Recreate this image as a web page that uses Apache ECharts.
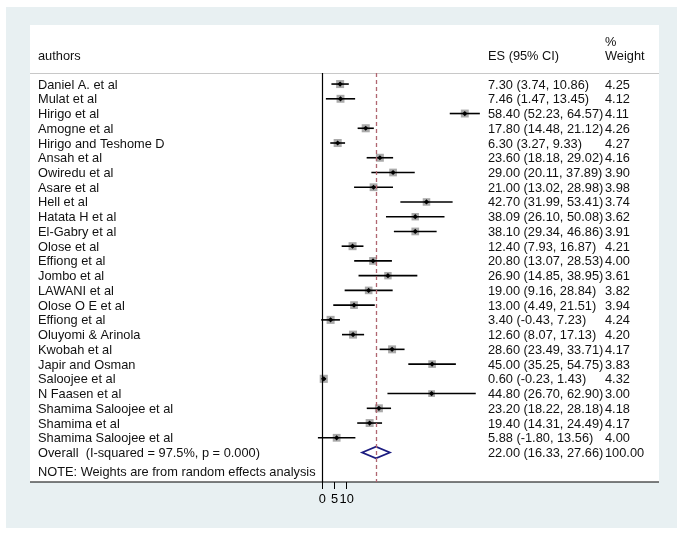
<!DOCTYPE html>
<html>
<head>
<meta charset="utf-8">
<script src="https://cdn.jsdelivr.net/npm/echarts@6/dist/echarts.min.js"></script>
<style>
  html, body { margin: 0; padding: 0; background: #fff; }
  #chart { width: 685px; height: 535px; }
</style>
</head>
<body>
<div id="chart"></div>
<script>
// study rows, top to bottom
const authors = [
  'Daniel A. et al', 'Mulat et al', 'Hirigo et al', 'Amogne et al', 'Hirigo and Teshome D',
  'Ansah et al', 'Owiredu et al', 'Asare et al', 'Hell et al', 'Hatata H et al',
  'El-Gabry et al', 'Olose et al', 'Effiong et al', 'Jombo et al', 'LAWANI et al',
  'Olose O E et al', 'Effiong et al', 'Oluyomi & Arinola', 'Kwobah et al', 'Japir and Osman',
  'Saloojee et al', 'N Faasen et al', 'Shamima Saloojee et al', 'Shamima et al', 'Shamima Saloojee et al'
];
const es = [7.30, 7.46, 58.40, 17.80, 6.30, 23.60, 29.00, 21.00, 42.70, 38.09,
  38.10, 12.40, 20.80, 26.90, 19.00, 13.00, 3.40, 12.60, 28.60, 45.00,
  0.60, 44.80, 23.20, 19.40, 5.88];
const ciLow = [3.74, 1.47, 52.23, 14.48, 3.27, 18.18, 20.11, 13.02, 31.99, 26.10,
  29.34, 7.93, 13.07, 14.85, 9.16, 4.49, -0.43, 8.07, 23.49, 35.25,
  -0.23, 26.70, 18.22, 14.31, -1.80];
const ciHigh = [10.86, 13.45, 64.57, 21.12, 9.33, 29.02, 37.89, 28.98, 53.41, 50.08,
  46.86, 16.87, 28.53, 38.95, 28.84, 21.51, 7.23, 17.13, 33.71, 54.75,
  1.43, 62.90, 28.18, 24.49, 13.56];
const weights = [4.25, 4.12, 4.11, 4.26, 4.27, 4.16, 3.90, 3.98, 3.74, 3.62,
  3.91, 4.21, 4.00, 3.61, 3.82, 3.94, 4.24, 4.20, 4.17, 3.83,
  4.32, 3.00, 4.18, 4.17, 4.00];

// pooled estimate
const overallLabel = 'Overall  (I-squared = 97.5%, p = 0.000)';
const overall = { es: 22.00, lo: 16.33, hi: 27.66, weight: 100.00 };

const xTicks = [0, 5, 10];

const FONT = '"Liberation Sans", Arial, Helvetica, sans-serif';
const FS = '12.8px ';
const TXT = '#111';
const COL_AUTH = 38, COL_ES = 488, COL_W = 605;

const fmtCi = (e, l, h) => e.toFixed(2) + ' (' + l.toFixed(2) + ', ' + h.toFixed(2) + ')';

const rows = authors.map((a, i) => [es[i], i, ciLow[i], ciHigh[i], weights[i], 0]);
rows.push([overall.es, authors.length, overall.lo, overall.hi, overall.weight, 1]);

function rowText(x, y, s) {
  return { type: 'text', style: { x: x, y: y, text: s, font: FS + FONT, fill: TXT, textVerticalAlign: 'middle' } };
}

function renderRow(params, api) {
  const i = params.dataIndex;
  const e = api.value(0), r = api.value(1), lo = api.value(2), hi = api.value(3), w = api.value(4);
  const pe = api.coord([e, r]);
  const pl = api.coord([lo, r]);
  const ph = api.coord([hi, r]);
  const y = pe[1];
  const kids = [];
  if (api.value(5) === 1) {
    const hh = 5.8;
    kids.push({
      type: 'polygon',
      shape: { points: [[pl[0], y], [pe[0], y - hh], [ph[0], y], [pe[0], y + hh]] },
      style: { fill: 'none', stroke: '#1c1c80', lineWidth: 1.8 }
    });
    kids.push(rowText(COL_AUTH, y + 1, overallLabel));
  } else {
    const s = 3.9 * Math.sqrt(w);
    kids.push({ type: 'rect', shape: { x: pe[0] - s / 2, y: y - s / 2, width: s, height: s }, style: { fill: '#aaaaaa' } });
    kids.push({ type: 'line', shape: { x1: pl[0], y1: y, x2: ph[0], y2: y }, style: { stroke: '#000', lineWidth: 1.6 } });
    kids.push({
      type: 'polygon',
      shape: { points: [[pe[0] - 2.6, y], [pe[0], y - 2.6], [pe[0] + 2.6, y], [pe[0], y + 2.6]] },
      style: { fill: '#000' }
    });
    kids.push(rowText(COL_AUTH, y + 1, authors[i]));
  }
  kids.push(rowText(COL_ES, y + 1, fmtCi(e, lo, hi)));
  kids.push(rowText(COL_W, y + 1, w.toFixed(2)));
  return { type: 'group', children: kids };
}

const chart = echarts.init(document.getElementById('chart'));
chart.setOption({
  backgroundColor: '#fff',
  animation: false,
  grid: { left: 310.1, right: 204.1, top: 73, bottom: 53 },
  xAxis: {
    type: 'value', min: -5, max: 65, position: 'bottom',
    axisLine: { show: false, onZero: false },
    splitLine: { show: false },
    axisTick: { show: true, customValues: xTicks, length: 7, lineStyle: { color: '#000', width: 1 } },
    axisLabel: { customValues: xTicks, hideOverlap: false, margin: 11, color: '#000', fontSize: 12.8, fontFamily: FONT }
  },
  yAxis: { type: 'value', inverse: true, min: -0.75, max: 27, show: false },
  graphic: [
    { type: 'rect', z: -10, shape: { x: 6, y: 7, width: 671, height: 521 }, style: { fill: '#e8f0f2' } },
    { type: 'rect', z: -9, shape: { x: 30, y: 25, width: 629, height: 457 }, style: { fill: '#fff' } },
    { type: 'line', z: -8, shape: { x1: 30, y1: 73.5, x2: 659, y2: 73.5 }, style: { stroke: '#c8c8c8', lineWidth: 1.2 } },
    { type: 'line', z: 5, shape: { x1: 30, y1: 482, x2: 659, y2: 482 }, style: { stroke: '#000', lineWidth: 1.2 } },
    { type: 'text', style: { x: COL_AUTH, y: 56, text: 'authors', font: FS + FONT, fill: TXT, textVerticalAlign: 'middle' } },
    { type: 'text', style: { x: COL_ES, y: 56, text: 'ES (95% CI)', font: FS + FONT, fill: TXT, textVerticalAlign: 'middle' } },
    { type: 'text', style: { x: COL_W, y: 42, text: '%', font: FS + FONT, fill: TXT, textVerticalAlign: 'middle' } },
    { type: 'text', style: { x: COL_W, y: 56, text: 'Weight', font: FS + FONT, fill: TXT, textVerticalAlign: 'middle' } },
    { type: 'text', style: { x: COL_AUTH, y: 472, text: 'NOTE: Weights are from random effects analysis', font: FS + FONT, fill: TXT, textVerticalAlign: 'middle' } }
  ],
  series: [{
    type: 'custom',
    clip: false,
    renderItem: renderRow,
    encode: { x: [0, 2, 3], y: 1 },
    data: rows,
    z: 3,
    markLine: {
      silent: true,
      symbol: 'none',
      label: { show: false },
      data: [
        { xAxis: 0, lineStyle: { color: '#000', width: 1.2, type: 'solid' } },
        { xAxis: overall.es, lineStyle: { color: '#b06670', width: 1.3, type: [4, 3] } }
      ]
    }
  }]
});
</script>
</body>
</html>
